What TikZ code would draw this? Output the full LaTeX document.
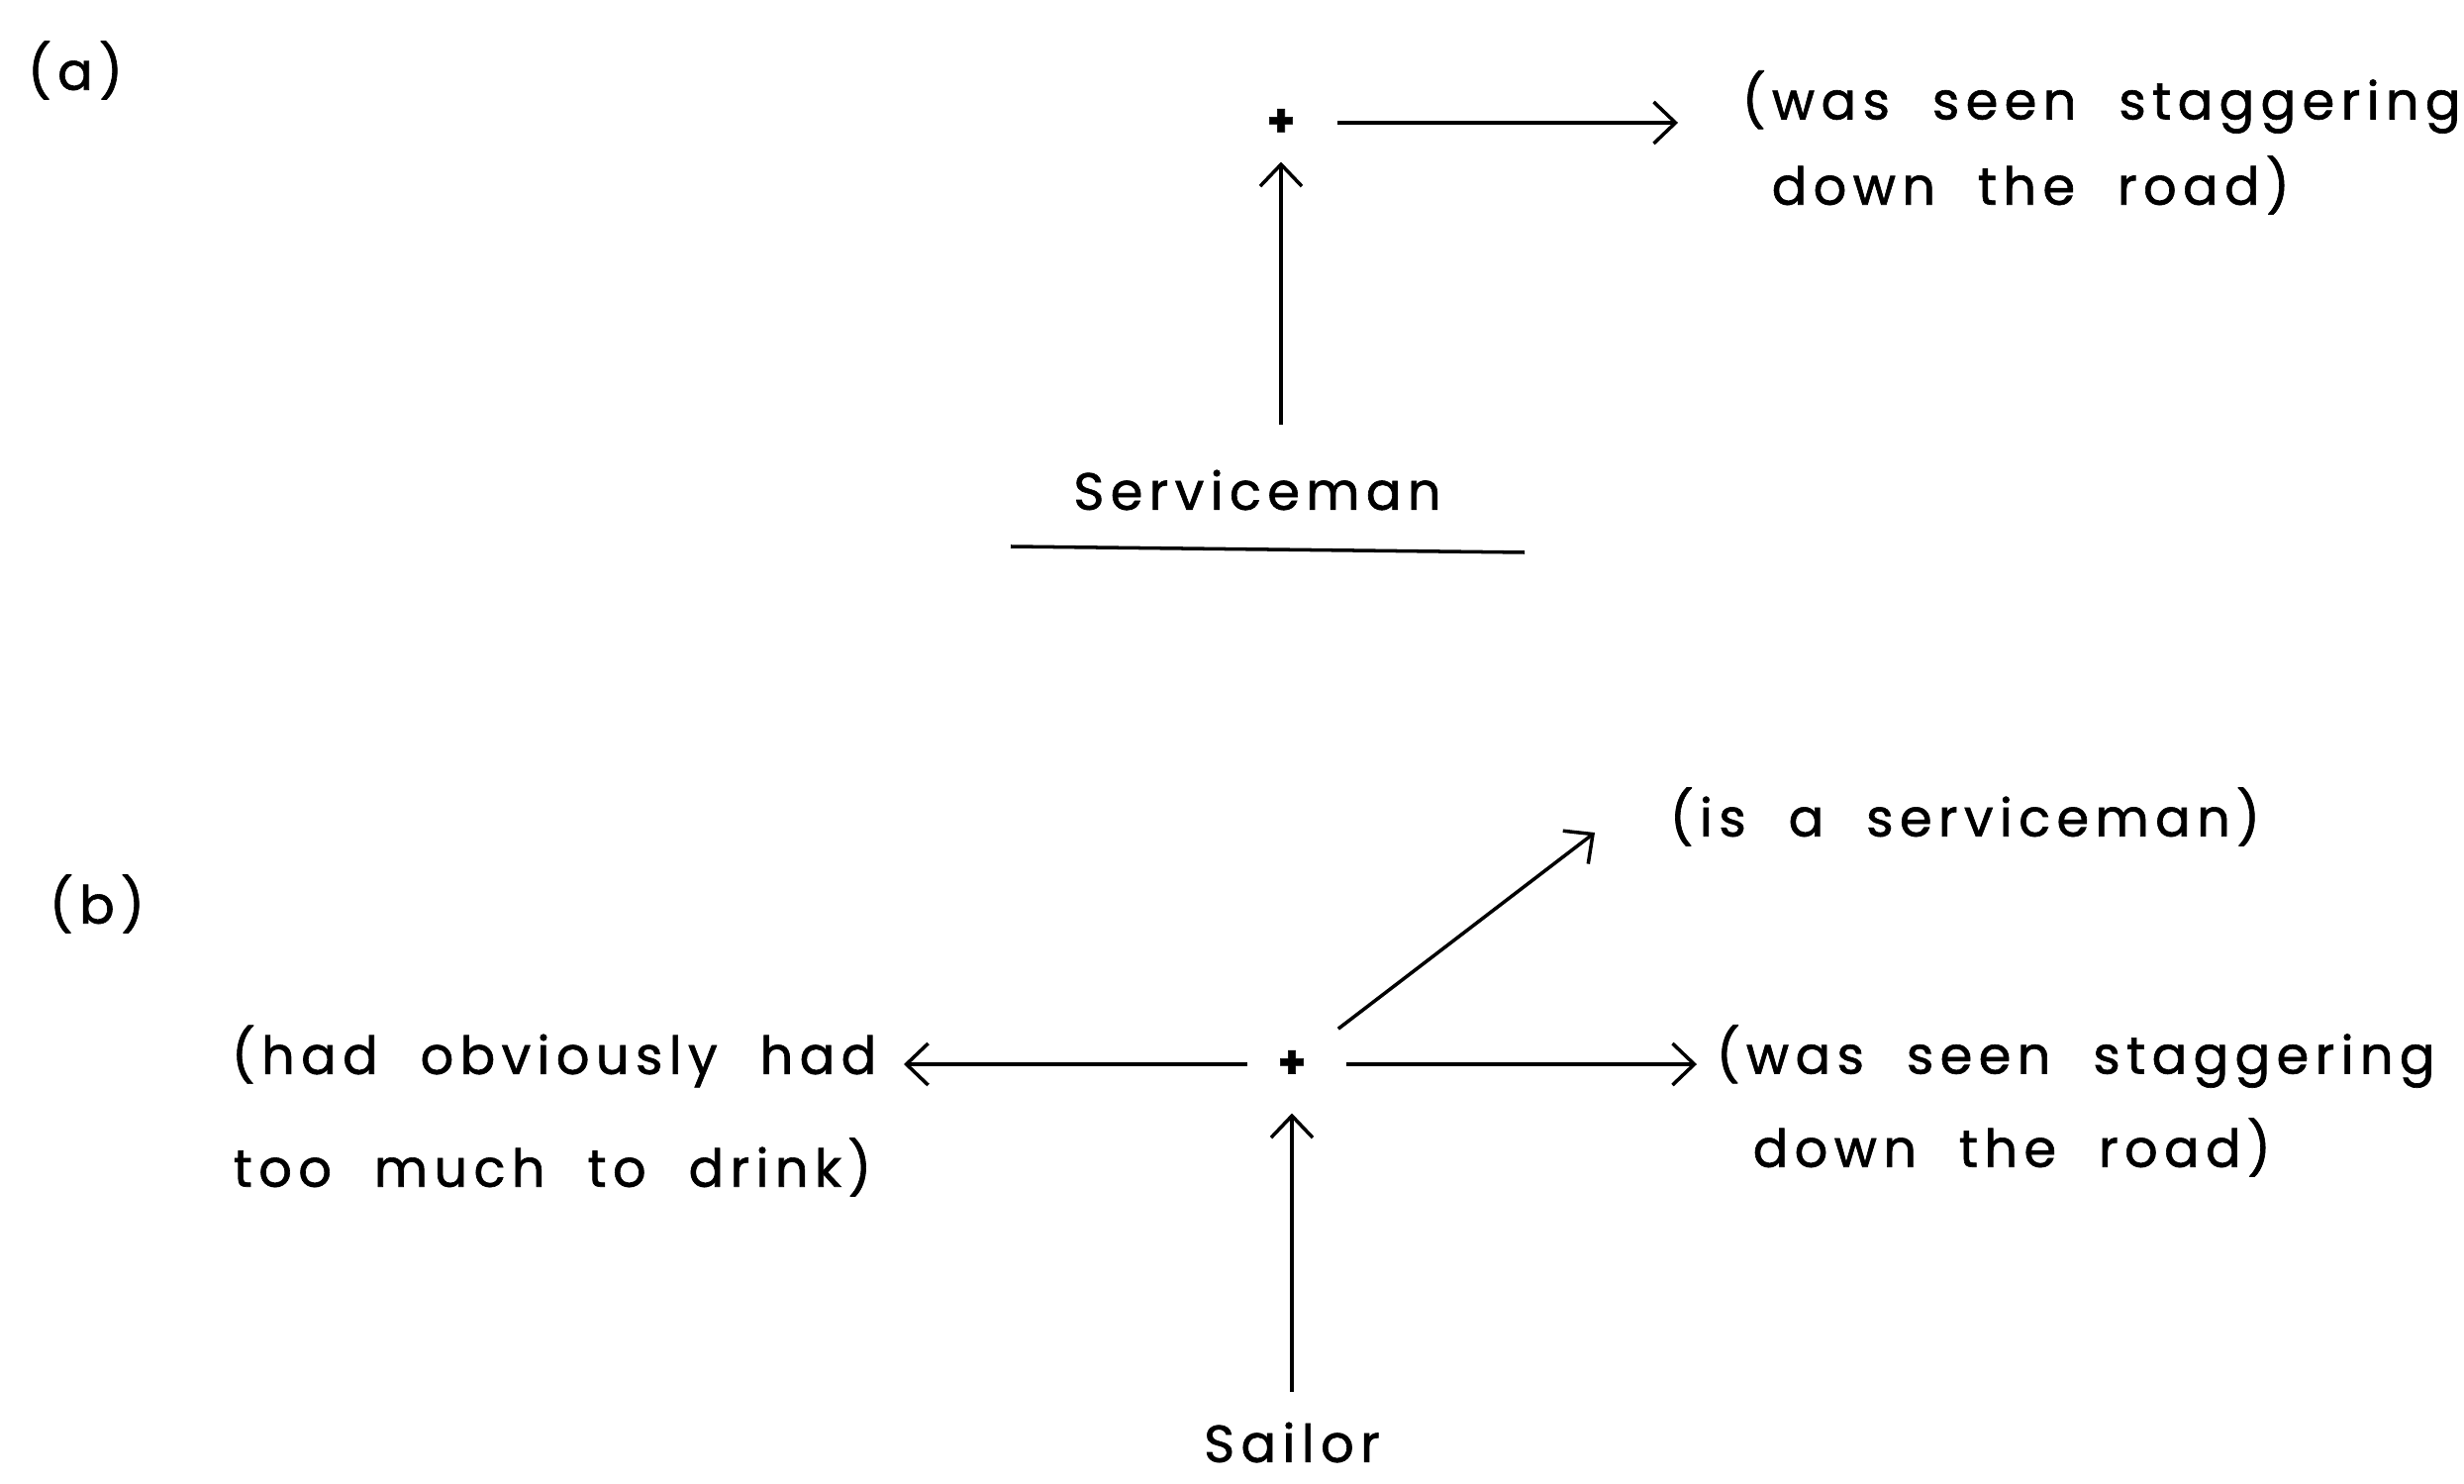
\documentclass[tikz,border=0pt]{standalone}
\usepackage{fontspec}
\newfontfamily\diafont[LetterSpace=12, WordSpace=2.1, FakeBold=1.2]{Poppins}
\usepackage{tikz}
\usetikzlibrary{arrows.meta, positioning, calc}

\begin{document}
\begin{tikzpicture}[
    txt/.style={font=\diafont\fontsize{15}{18}\selectfont, inner sep=0pt},
    plusnode/.style={font=\diafont\fontsize{13}{13}\selectfont\bfseries, inner sep=0pt},
    arr/.style={-{Straight Barb[length=2.2mm, width=4.2mm]}, line width=1pt},
    uline/.style={line width=1pt}
]
\useasboundingbox (0,0) rectangle (24.89,-14.99);

%% ===== PART (a) =====
\node[txt] (labA) at (0.76,-0.71) {(a)};
\node[plusnode] (plusA) at (12.94,-1.24) {+};
\node[txt, anchor=west] (predA)  at (17.59,-1.03) {(was seen staggering};
\node[txt, anchor=west] (predAb) at (17.89,-1.87) {down the road)};
\node[txt] (subjA) at (12.70,-4.95) {Serviceman};

\draw[arr, shorten <=0.42cm, shorten >=0.64cm] (plusA) -- (plusA -| predA.west);
\draw[arr, shorten <=0.45cm, shorten >=0.25cm] (subjA.north -| plusA) -- (plusA);
\draw[uline] ($(subjA.south)+(-2.49,-0.36)$) -- ($(subjA.south)+(2.70,-0.42)$);

%% ===== PART (b) =====
\node[txt] (labB) at (0.98,-9.13) {(b)};
\node[plusnode] (plusB) at (13.05,-10.75) {+};
\node[txt, anchor=west] (isB)    at (16.86,-8.25) {(is a serviceman)};
\coordinate (tipB) at (16.11,-8.41);
\node[txt, anchor=west] (predB)  at (17.33,-10.67) {(was seen staggering};
\node[txt, anchor=west] (predBb) at (17.70,-11.59) {down the road)};
\node[txt, anchor=east] (modB)   at (8.86,-10.67) {(had obviously had};
\node[txt, anchor=east] (modBb)  at (8.81,-11.79) {too much to drink)};
\node[txt] (subjB) at (13.05,-14.57) {Sailor};

\draw[arr, shorten <=0.30cm, shorten >=0.27cm] (plusB) -- (plusB -| modB.east);
\draw[arr, shorten <=0.40cm, shorten >=0.19cm] (plusB) -- (plusB -| predB.west);
\draw[arr, shorten <=0.40cm] (plusB) -- (tipB);
\draw[arr, shorten <=0.30cm, shorten >=0.35cm] (subjB.north -| plusB) -- (plusB);

\end{tikzpicture}
\end{document}
